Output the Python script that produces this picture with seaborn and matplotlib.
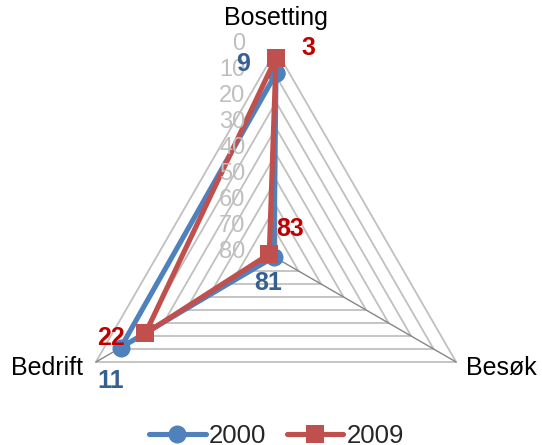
import numpy as np
import pandas as pd
import matplotlib.pyplot as plt
import seaborn as sns
from matplotlib.lines import Line2D

# Data
categories = ['Bosetting', 'Besøk', 'Bedrift']
years = ['2000', '2009']
values_2000 = [9, 81, 11]
values_2009 = [3, 83, 22]
ticks = [0, 10, 20, 30, 40, 50, 60, 70, 80]
axis_max = 80

sns.set_style('white')
plt.rcParams['font.family'] = ['Liberation Sans', 'DejaVu Sans']

# radar angles (clockwise from top), reversed radial scale: 0 outside, 80 in centre
angles = np.deg2rad([90, -30, 210])


def to_xy(vals):
    r = axis_max - np.asarray(vals, dtype=float)
    return r * np.cos(angles), r * np.sin(angles)


rows = []
for year, vals in zip(years, [values_2000, values_2009]):
    x, y = to_xy(vals)
    for i in list(range(len(categories))) + [0]:
        rows.append({'year': year, 'x': x[i], 'y': y[i]})
df = pd.DataFrame(rows)

px = 2.6  # pixels per data unit
W, H = 542, 445
cx, cy = 276, 258
fig = plt.figure(figsize=(W / 100, H / 100), dpi=100)
ax = fig.add_axes([0, 0, 1, 1])
ax.set_xlim(-cx / px, (W - cx) / px)
ax.set_ylim(-(H - cy) / px, cy / px)
ax.axis('off')

# triangular grid
for t in ticks[:-1]:
    gx, gy = to_xy([t] * 3)
    ax.plot(np.append(gx, gx[0]), np.append(gy, gy[0]), color='#C0C0C0', lw=1.3, zorder=1)
# spokes
vx, vy = to_xy([0] * 3)
for i in range(3):
    ax.plot([0, vx[i]], [0, vy[i]], color='#868686', lw=1.0, zorder=1)

colors = {'2000': '#4F81BD', '2009': '#C0504D'}
markers = {'2000': 'o', '2009': 's'}
sns.lineplot(data=df, x='x', y='y', hue='year', style='year', markers=markers,
             dashes=False, sort=False, estimator=None, units='year',
             palette=colors, lw=3.7, markersize=13, markeredgewidth=0,
             legend=False, ax=ax, zorder=3)
ax.set_xlabel('')
ax.set_ylabel('')

# tick labels along the Bosetting axis
for t in ticks:
    ax.annotate(str(t), (0, axis_max - t), xytext=(-22, 4), textcoords='offset points',
                ha='right', va='center', fontsize=17, color='#BFBFBF')

# category labels
cat_offsets = [((0, 23), 'center'), ((7, -4), 'left'), ((-9, -4), 'right')]
for i, name in enumerate(categories):
    off, ha = cat_offsets[i]
    ax.annotate(name, (vx[i], vy[i]), xytext=off, textcoords='offset points',
                ha=ha, va='center', fontsize=18, color='black')

# data labels
label_colors = {'2000': '#376092', '2009': '#C00000'}
label_offsets = {'2000': [(-24, 7), (-4, -19), (-7, -24)],
                 '2009': [(23, 7), (15, 18), (-25, -3)]}
for year, vals in zip(years, [values_2000, values_2009]):
    x, y = to_xy(vals)
    for i, v in enumerate(vals):
        ax.annotate(str(v), (x[i], y[i]), xytext=label_offsets[year][i],
                    textcoords='offset points', ha='center', va='center',
                    fontsize=18, fontweight='bold', color=label_colors[year], zorder=5)

handles = [Line2D([], [], color=colors[y], lw=3.7, marker=markers[y], markersize=13,
                  markeredgewidth=0) for y in years]
fig.legend(handles, years, loc='center', bbox_to_anchor=(0.51, 1 - 436 / H), ncol=2,
           frameon=False, fontsize=18.5, handlelength=2.2, handletextpad=0.12,
           columnspacing=0.8, borderaxespad=0)

fig.savefig('out.png', dpi=100)
